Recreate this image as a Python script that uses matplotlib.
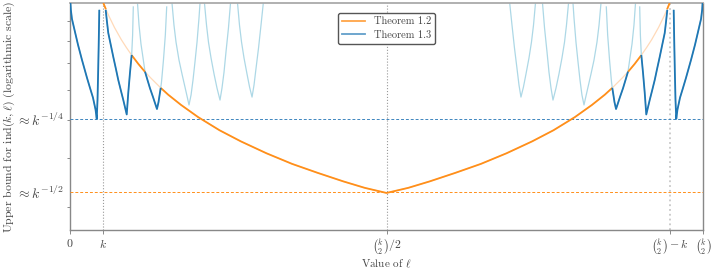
import numpy as np
import matplotlib.pyplot as plt
from matplotlib.lines import Line2D
from matplotlib.ticker import FixedLocator, NullFormatter

plt.rcParams['font.family'] = 'serif'
plt.rcParams['font.serif'] = ['cmr10', 'DejaVu Serif']
plt.rcParams['mathtext.fontset'] = 'cm'
plt.rcParams['axes.formatter.use_mathtext'] = True

# k = 39, so binom(k, 2) = 741
k = 39
n_pairs = 741
tick_pos = [0, k, n_pairs / 2, n_pairs - k, n_pairs]
tick_labels = ['$0$', '$k$', r'$\binom{k}{2}/2$', r'$\binom{k}{2}-k$', r'$\binom{k}{2}$']
level_quarter = 0.504
level_half = 0.328

# Theorem 1.2 bound
t12_l = [39, 42, 45, 52, 60, 66, 72.2, 80, 87.8, 95, 106.2, 115, 130, 150, 175, 200,
         230, 260, 290, 320, 345, 370.5, 396, 421, 451, 481, 511, 541, 566, 591, 611,
         626, 634.8, 646, 653.2, 661, 668.8, 675, 681, 689, 696, 699, 702]
t12_v = [1.0, 0.964, 0.931, 0.866, 0.806, 0.769, 0.735, 0.698, 0.666, 0.641, 0.606,
         0.582, 0.548, 0.510, 0.472, 0.442, 0.412, 0.387, 0.367, 0.349, 0.336, 0.326,
         0.336, 0.349, 0.367, 0.387, 0.412, 0.442, 0.472, 0.510, 0.548, 0.582, 0.606,
         0.641, 0.666, 0.698, 0.735, 0.769, 0.806, 0.866, 0.931, 0.964, 1.0]
t12_low = [(39, 42), (72.2, 87.8), (106.2, 634.8), (653.2, 668.8), (699, 702)]

# Theorem 1.3 bound, one arc per block of k values of l
c1_l = [0.5, 1.0, 2.3, 5.9, 9.4, 14.0, 19.9, 23.4, 26.9, 29.9, 31.3, 32.2, 33.0, 33.7, 34.3]
c1_v = [1.0, 0.960, 0.910, 0.842, 0.781, 0.715, 0.643, 0.606, 0.572, 0.533, 0.505, 0.564, 0.673, 0.804, 0.960]
c2_l = [41.8, 43.3, 44.8, 48.0, 50.7, 53.8, 56.5, 59.7, 62.4, 66.4, 68.2, 70.2, 72.2, 73.3, 74.1]
c2_v = [0.960, 0.894, 0.838, 0.776, 0.727, 0.677, 0.635, 0.595, 0.564, 0.518, 0.588, 0.662, 0.736, 0.828, 0.977]
c3_l = [79.0, 80.8, 83.1, 85.5, 87.8, 90.7, 93.6, 97.2, 100.1, 101.8, 103.6, 105.4, 106.2, 107.1, 109.4, 111.6, 113.2]
c3_v = [1.0, 0.878, 0.785, 0.723, 0.667, 0.635, 0.605, 0.574, 0.549, 0.535, 0.557, 0.591, 0.606, 0.627, 0.714, 0.828, 0.977]
c4_l = [119.4, 121.7, 124.1, 127.6, 131.1, 134.6, 137.5, 139.3, 141.7, 144.0, 146.3, 148.7, 151.0, 152.2]
c4_v = [1.0, 0.878, 0.794, 0.714, 0.658, 0.609, 0.571, 0.548, 0.581, 0.635, 0.706, 0.794, 0.915, 1.0]
c5_l = [157.4, 159.8, 162.1, 165.1, 168.6, 172.1, 175.6, 177.9, 180.3, 182.6, 185.5, 187.9]
c5_v = [1.0, 0.878, 0.794, 0.723, 0.658, 0.605, 0.564, 0.605, 0.665, 0.749, 0.863, 1.0]
c6_l = [196.1, 198.4, 200.8, 203.7, 207.2, 210.2, 213.1, 215.4, 217.8, 220.7, 223.6, 226.3]
c6_v = [1.0, 0.878, 0.794, 0.723, 0.658, 0.609, 0.574, 0.616, 0.681, 0.767, 0.878, 1.0]

r6_l = [514.7, 517.4, 520.3, 523.2, 525.6, 527.9, 530.8, 533.8, 537.3, 540.2, 542.6, 544.9]
r6_v = [1.0, 0.878, 0.767, 0.681, 0.616, 0.574, 0.609, 0.658, 0.723, 0.794, 0.878, 1.0]
r5_l = [553.1, 555.5, 558.4, 560.7, 563.1, 565.4, 568.9, 572.4, 575.9, 578.9, 581.2, 583.6]
r5_v = [1.0, 0.863, 0.749, 0.665, 0.605, 0.564, 0.605, 0.658, 0.723, 0.794, 0.878, 1.0]
r4_l = [588.8, 590.0, 592.3, 594.7, 597.0, 599.3, 601.7, 603.5, 606.4, 609.9, 613.4, 616.9, 619.3, 621.6]
r4_v = [1.0, 0.915, 0.794, 0.706, 0.635, 0.581, 0.548, 0.571, 0.609, 0.658, 0.714, 0.794, 0.878, 1.0]
r3_l = [627.8, 629.4, 631.6, 633.9, 634.8, 635.6, 637.4, 639.2, 640.9, 643.8, 647.4, 650.3, 653.2, 655.5, 657.9, 660.2, 662.0]
r3_v = [0.977, 0.828, 0.714, 0.627, 0.606, 0.591, 0.557, 0.535, 0.549, 0.574, 0.605, 0.635, 0.667, 0.723, 0.785, 0.878, 1.0]
r2_l = [666.9, 667.7, 668.8, 670.8, 672.8, 674.6, 678.6, 681.3, 684.5, 687.2, 690.3, 693.0, 696.2, 697.7, 699.2]
r2_v = [0.977, 0.828, 0.736, 0.662, 0.588, 0.518, 0.564, 0.595, 0.635, 0.677, 0.727, 0.776, 0.838, 0.894, 0.960]
r1_l = [706.7, 707.3, 708.0, 708.8, 709.7, 711.1, 714.1, 717.6, 721.1, 727.0, 731.6, 735.1, 738.7, 740.0, 740.5]
r1_v = [0.960, 0.804, 0.673, 0.564, 0.505, 0.533, 0.572, 0.606, 0.643, 0.715, 0.781, 0.842, 0.910, 0.960, 1.0]

t13_low = [(0, 34.3), (41.8, 72.2), (87.8, 106.2), (634.8, 653.2), (668.8, 699.2), (706.7, 741)]

arcs = [(c1_l, c1_v), (c2_l, c2_v), (c3_l, c3_v), (c4_l, c4_v), (c5_l, c5_v), (c6_l, c6_v),
        (r6_l, r6_v), (r5_l, r5_v), (r4_l, r4_v), (r3_l, r3_v), (r2_l, r2_v), (r1_l, r1_v)]

orange = '#ff8f1a'
blue = '#1f77b4'
text_gray = '#444444'


def draw_low(ax, xs, ys, ranges, color):
    xs = np.array(xs)
    ys = np.array(ys)
    for a, b in ranges:
        m = (xs >= a - 1e-9) & (xs <= b + 1e-9)
        if m.sum() > 1:
            ax.plot(xs[m], ys[m], color=color, lw=1.3, zorder=4, solid_capstyle='butt')


fig = plt.figure(figsize=(7.14, 2.71), dpi=100)
ax = fig.add_axes([70 / 714, 41 / 271, 633 / 714, 227 / 271])
ax.set_yscale('log')

# faint full curves
ax.plot(t12_l, t12_v, color='#ffdab9', lw=0.9, zorder=2)
for xs, ys in arcs:
    ax.plot(xs, ys, color='#add8e6', lw=0.9, zorder=2)

# the smaller of the two bounds, drawn bold
draw_low(ax, t12_l, t12_v, t12_low, orange)
for xs, ys in arcs:
    draw_low(ax, xs, ys, t13_low, blue)

ax.axhline(level_quarter, color='#3f86bf', ls='--', lw=0.7, dashes=(3, 2), zorder=3)
ax.axhline(level_half, color=orange, ls='--', lw=0.7, dashes=(3, 2), zorder=3)
ax.axvline(tick_pos[1], color='#999999', ls=':', lw=0.8, zorder=1)
ax.axvline(tick_pos[2], color='#999999', ls=':', lw=0.8, zorder=1)
ax.axvline(tick_pos[3], color='#c8c8c8', ls=':', lw=1.3, zorder=1)

ax.set_xlim(0, n_pairs)
ax.set_ylim(0.262, 1.0)
ax.set_xticks(tick_pos)
ax.set_xticklabels(tick_labels)
ax.set_yticks([level_quarter, level_half])
ax.set_yticklabels([r'$\approx k^{-1/4}$', r'$\approx k^{-1/2}$'], fontsize=10)
ax.yaxis.set_minor_locator(FixedLocator([0.3, 0.4, 0.5, 0.6, 0.7, 0.8, 0.9]))
ax.yaxis.set_minor_formatter(NullFormatter())
ax.tick_params(axis='y', which='major', length=0, pad=4, colors=text_gray)
ax.tick_params(axis='y', which='minor', length=2, width=0.6, color='#777777')
ax.tick_params(axis='x', length=3, width=0.6, color='#777777', labelsize=8.5,
               labelcolor=text_gray, pad=2)

for side in ['left', 'bottom', 'right']:
    ax.spines[side].set_color('#888888')
    ax.spines[side].set_linewidth(1.0)
ax.spines['top'].set_color('#aaaaaa')
ax.spines['top'].set_linewidth(1.3)

ax.set_xlabel(r'Value of $\ell$', fontsize=8, color=text_gray)
ax.xaxis.set_label_coords(0.5, -0.12)
ax.set_ylabel(r'Upper bound for $\mathrm{ind}(k,\ell)$ (logarithmic scale)', fontsize=8.5,
              color=text_gray)
ax.yaxis.set_label_coords(-0.083, 0.5)

handles = [Line2D([], [], color=orange, lw=1.3, alpha=0.8),
           Line2D([], [], color=blue, lw=1.3, alpha=0.7)]
leg = ax.legend(handles, ['Theorem 1.2', 'Theorem 1.3'], loc='upper center', fontsize=7.5,
                frameon=True, fancybox=True, edgecolor='#555555', framealpha=1,
                bbox_to_anchor=(0.5, 0.98), handlelength=2.2, borderpad=0.4, labelspacing=0.4)
for t in leg.get_texts():
    t.set_color(text_gray)

fig.savefig('out.png', dpi=100)
